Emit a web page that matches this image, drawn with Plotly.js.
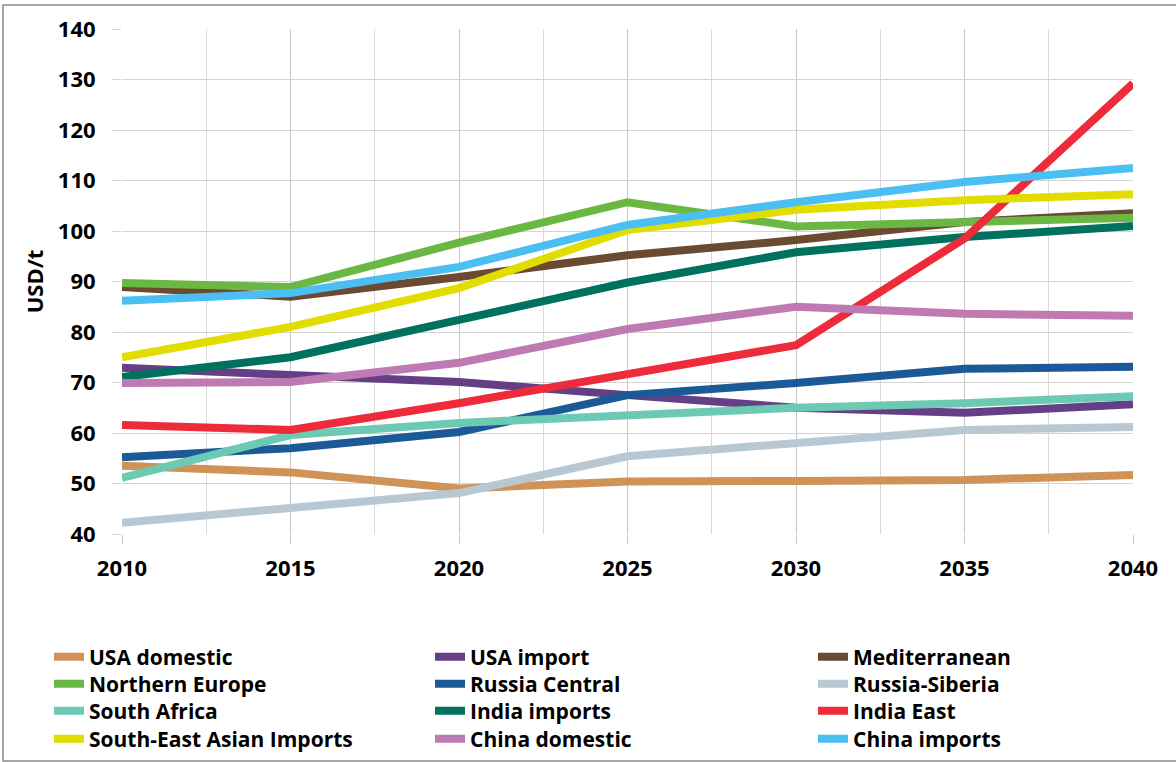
<!DOCTYPE html>
<html>
<head>
<meta charset="utf-8">
<script src="https://cdn.plot.ly/plotly-3.0.1.min.js"></script>
<style>html,body{margin:0;padding:0;background:#fff;}#chart{width:1176px;height:762px;}</style>
</head>
<body>
<div id="chart"></div>
<script>
const years = [2010, 2015, 2020, 2025, 2030, 2035, 2040];
const seriesNames = ["USA domestic", "USA import", "Mediterranean", "Northern Europe", "Russia Central", "Russia-Siberia", "South Africa", "India imports", "India East", "South-East Asian Imports", "China domestic", "China imports"];
const usaDomestic    = [53.5, 52.2, 49.0, 50.4, 50.5, 50.7, 51.7];
const usaImport      = [72.9, 71.5, 70.1, 67.5, 65.0, 64.0, 65.7];
const mediterranean  = [88.9, 87.0, 90.9, 95.2, 98.2, 101.8, 103.5];
const northernEurope = [89.7, 88.9, 97.7, 105.7, 100.9, 101.8, 102.6];
const russiaCentral  = [55.2, 57.0, 60.2, 67.5, 69.9, 72.7, 73.1];
const russiaSiberia  = [42.2, 45.1, 48.1, 55.4, 58.0, 60.6, 61.2];
const southAfrica    = [51.1, 59.6, 62.0, 63.6, 65.0, 65.9, 67.3];
const indiaImports   = [71.1, 75.0, 82.4, 89.8, 95.8, 98.8, 101.0];
const indiaEast      = [61.6, 60.6, 65.9, 71.7, 77.4, 98.5, 129.2];
const seAsianImports = [75.0, 81.0, 88.7, 100.2, 104.2, 106.1, 107.3];
const chinaDomestic  = [69.9, 70.1, 73.9, 80.6, 85.0, 83.6, 83.2];
const chinaImports   = [86.2, 87.7, 92.9, 101.2, 105.7, 109.7, 112.5];
const yTickVals = [40, 50, 60, 70, 80, 90, 100, 110, 120, 130, 140];
const xTickVals = [2010, 2015, 2020, 2025, 2030, 2035, 2040];

const allValues = [usaDomestic, usaImport, mediterranean, northernEurope, russiaCentral, russiaSiberia, southAfrica, indiaImports, indiaEast, seAsianImports, chinaDomestic, chinaImports];
const colors = ["#CF9358", "#653F85", "#6A4A30", "#6BB744", "#1B5A97", "#B8C8D2", "#6CCAB4", "#00715F", "#EE2B3B", "#E1DD00", "#BE7AB3", "#4CBFF2"];

const FONT = "'Open Sans', 'Liberation Sans', sans-serif";

// plot area in pixels
const W = 1176, H = 762;
const PL = 122, PR = 1133, PT = 29, PB = 534;
const PW = PR - PL, PH = PB - PT;
const px2x = p => (p - PL) / PW;
const px2y = p => (PB - p) / PH;

// legend grid (3 columns x 4 rows, row-major order)
const legendColLeft = [49, 430, 813];
const legendRowCenter = [657, 684, 711, 739];

const traces = seriesNames.map((name, i) => ({
  type: "scatter",
  mode: "lines",
  name: name,
  x: years,
  y: allValues[i],
  line: {color: colors[i], width: 8},
  legend: i === 0 ? "legend" : "legend" + (i + 1),
  hoverinfo: "x+y+name"
}));

const layout = {
  width: W,
  height: H,
  paper_bgcolor: "#ffffff",
  plot_bgcolor: "#ffffff",
  margin: {l: PL, r: W - PR, t: PT, b: H - PB, autoexpand: false},
  font: {family: FONT, color: "#000000", size: 22, weight: "bold"},
  showlegend: true,
  xaxis: {
    range: [2010, 2040],
    tickvals: xTickVals,
    ticktext: xTickVals.map(String),
    showgrid: true,
    gridcolor: "#c6c6c6",
    gridwidth: 1,
    minor: {tickvals: [2012.5, 2017.5, 2022.5, 2027.5, 2032.5, 2037.5], showgrid: true, gridcolor: "#d9d9d9", gridwidth: 1, ticks: ""},
    ticks: "outside",
    ticklen: 9,
    tickcolor: "#c6c6c6",
    tickwidth: 1,
    ticklabelstandoff: 6,
    tickfont: {family: FONT, size: 22, color: "#000", weight: "bold"},
    showline: false,
    zeroline: false,
    fixedrange: true
  },
  yaxis: {
    range: [40, 140],
    tickvals: yTickVals,
    showgrid: true,
    gridcolor: "#d4d4d4",
    gridwidth: 1,
    ticks: "outside",
    ticklen: 9,
    tickcolor: "#d4d4d4",
    tickwidth: 1,
    ticklabelstandoff: 12,
    tickfont: {family: FONT, size: 22, color: "#000", weight: "bold"},
    showline: false,
    zeroline: false,
    title: {text: "USD/t", font: {family: FONT, size: 22, color: "#000", weight: "bold"}, standoff: 8},
    fixedrange: true
  },
  shapes: [{
    type: "rect", xref: "paper", yref: "paper",
    x0: px2x(3), x1: px2x(1180), y0: px2y(761), y1: px2y(5),
    line: {color: "#8a8a8a", width: 1.5},
    fillcolor: "rgba(0,0,0,0)",
    layer: "below"
  }]
};

seriesNames.forEach((name, i) => {
  const key = i === 0 ? "legend" : "legend" + (i + 1);
  const col = i % 3, row = Math.floor(i / 3);
  layout[key] = {
    orientation: "v",
    x: px2x(legendColLeft[col]),
    xanchor: "left",
    y: px2y(legendRowCenter[row]),
    yanchor: "middle",
    font: {family: FONT, size: 21, color: "#000", weight: "bold"},
    bgcolor: "rgba(0,0,0,0)",
    borderwidth: 0,
    itemclick: false,
    itemdoubleclick: false
  };
});

Plotly.newPlot("chart", traces, layout, {displayModeBar: false, staticPlot: true});
</script>
</body>
</html>
